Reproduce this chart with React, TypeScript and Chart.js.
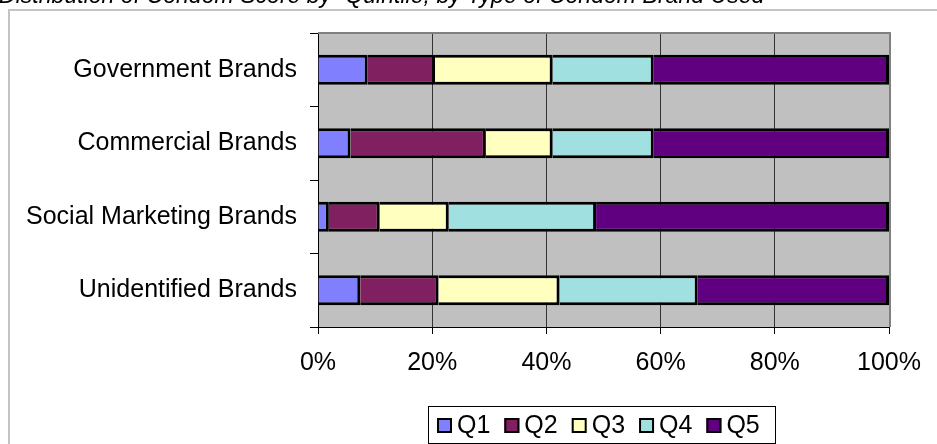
import React, { useEffect, useRef } from "react";
import { Chart, registerables } from "chart.js";

Chart.register(...registerables);

const categories = [
  "Government Brands",
  "Commercial Brands",
  "Social Marketing Brands",
  "Unidentified Brands",
];
const seriesNames = ["Q1", "Q2", "Q3", "Q4", "Q5"];
const q1 = [8.7, 5.7, 1.9, 7.4];
const q2 = [11.8, 23.7, 8.9, 13.7];
const q3 = [20.6, 11.7, 12.1, 21.2];
const q4 = [17.7, 17.7, 25.8, 24.2];
const q5 = [41.2, 41.2, 51.3, 33.5];
const seriesColors = ["#8080ff", "#802060", "#ffffc0", "#a0e0e0", "#600080"];
const xTicks = [0, 20, 40, 60, 80, 100];
const titleText =
  "Distribution of Condom Score by \u201CQuintile, by Type of Condom Brand Used";

const FONT = "'Liberation Sans', Arial, sans-serif";

export default function App() {
  const ref = useRef<HTMLCanvasElement | null>(null);

  useEffect(() => {
    const canvas = ref.current;
    if (!canvas) return;
    const values = [q1, q2, q3, q4, q5];

    const decor = {
      id: "decor",
      beforeDraw(chart: any) {
        const { ctx, chartArea } = chart;
        ctx.save();
        ctx.fillStyle = "#ffffff";
        ctx.fillRect(0, 0, chart.width, chart.height);
        // outer border
        ctx.strokeStyle = "#c4c4c4";
        ctx.lineWidth = 2;
        ctx.beginPath();
        ctx.moveTo(9, chart.height + 5);
        ctx.lineTo(9, 10);
        ctx.lineTo(chart.width + 5, 10);
        ctx.stroke();
        // title (clipped at top)
        ctx.fillStyle = "#000";
        ctx.font = `italic 24px ${FONT}`;
        const w = ctx.measureText(titleText).width;
        const size = (24 * 766) / w;
        ctx.font = `italic ${size}px ${FONT}`;
        ctx.textBaseline = "alphabetic";
        ctx.textAlign = "left";
        ctx.fillText(titleText, -1, 3);
        // plot background
        ctx.fillStyle = "#c0c0c0";
        ctx.fillRect(
          chartArea.left,
          chartArea.top,
          chartArea.right - chartArea.left,
          chartArea.bottom - chartArea.top
        );
        ctx.restore();
      },
      beforeDatasetsDraw(chart: any) {
        const { ctx, chartArea } = chart;
        ctx.save();
        ctx.strokeStyle = "#808080";
        ctx.lineWidth = 2;
        ctx.beginPath();
        ctx.moveTo(chartArea.left, chartArea.top);
        ctx.lineTo(chartArea.right + 1, chartArea.top);
        ctx.lineTo(chartArea.right + 1, chartArea.bottom);
        ctx.stroke();
        ctx.restore();
      },
      afterDraw(chart: any) {
        const { ctx } = chart;
        ctx.save();
        // legend box
        ctx.strokeStyle = "#000";
        ctx.lineWidth = 1;
        ctx.strokeRect(428.5, 406.5, 347, 37);
        ctx.font = `25px ${FONT}`;
        ctx.textBaseline = "alphabetic";
        ctx.textAlign = "left";
        let x = 437;
        chart.data.datasets.forEach((ds: any) => {
          ctx.fillStyle = ds.backgroundColor;
          ctx.fillRect(x, 418, 15, 15);
          ctx.strokeStyle = "#000";
          ctx.lineWidth = 2;
          ctx.strokeRect(x + 1, 419, 13, 13);
          ctx.fillStyle = "#000";
          ctx.fillText(ds.label, x + 20, 433);
          x += 20 + ctx.measureText(ds.label).width + 14;
        });
        ctx.restore();
      },
    };

    const chart = new Chart(canvas, {
      type: "bar",
      data: {
        labels: categories,
        datasets: seriesNames.map((name, i) => ({
          label: name,
          data: values[i],
          backgroundColor: seriesColors[i],
          borderColor: "#000",
          borderWidth: 3,
          barPercentage: 0.41,
          categoryPercentage: 1,
        })),
      },
      options: {
        indexAxis: "y",
        responsive: false,
        animation: false,
        devicePixelRatio: 1,
        layout: { padding: { top: 33, right: 48, left: 0, bottom: 0 } },
        plugins: {
          legend: { display: false },
          title: { display: false },
          tooltip: { enabled: false },
        },
        scales: {
          x: {
            type: "linear",
            stacked: true,
            min: 0,
            max: 100,
            afterFit(scale: any) {
              scale.height = 117;
            },
            afterBuildTicks(scale: any) {
              scale.ticks = xTicks.map((v) => ({ value: v }));
            },
            ticks: {
              font: { family: FONT, size: 25 },
              color: "#000",
              padding: 14,
              maxRotation: 0,
              callback: (v: any) => `${v}%`,
            },
            grid: {
              color: (c: any) =>
                c.index === 0 ? "#000" : c.index === 5 ? "#808080" : "#333",
              tickColor: "#000",
              tickLength: 7,
              lineWidth: 1,
            },
            border: { color: "#000", width: 1 },
          },
          y: {
            stacked: true,
            afterFit(scale: any) {
              scale.width = 318;
            },
            ticks: {
              font: { family: FONT, size: 25 },
              color: "#000",
              padding: 13,
            },
            grid: {
              drawOnChartArea: false,
              drawTicks: true,
              tickLength: 8,
              color: "#000",
              tickColor: "#000",
              offset: true,
            },
            border: { color: "#000", width: 1 },
          },
        },
      },
      plugins: [decor],
    } as any);

    return () => chart.destroy();
  }, []);

  return (
    <div style={{ position: "absolute", left: 0, top: 0, width: 937, height: 444 }}>
      <canvas ref={ref} width={937} height={444} style={{ display: "block" }} />
    </div>
  );
}
